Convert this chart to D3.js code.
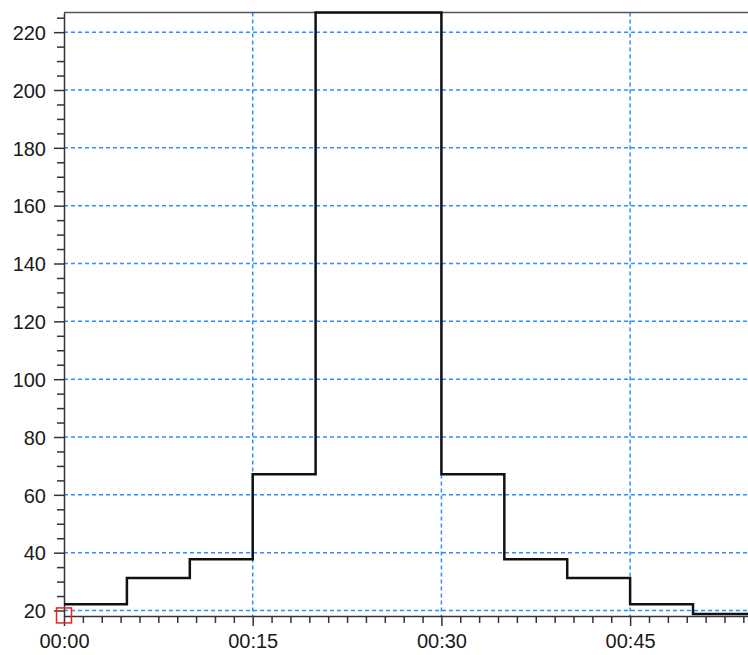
<!DOCTYPE html>
<html>
<head>
<meta charset="utf-8">
<script src="https://cdn.jsdelivr.net/npm/d3@7"></script>
<style>
    body { margin: 0; background: #fff; }
    svg { display: block; }
    .tick text { font-family: "Liberation Sans", Arial, sans-serif; font-size: 20px; fill: #1a1a1a; }
</style>
</head>
<body>
<svg id="chart" width="748" height="655"></svg>
<script>
(function () {
    'use strict';

    // step start times (minutes) and the rain intensity held from each one
    var stepStarts = [0, 5, 10, 15, 20, 25, 30, 35, 40, 45, 50, 55];
    var stepValues = [22.2, 31.2, 37.7, 67.1, 226.8, 226.8, 67.1, 37.7, 31.2, 22.2, 18.8, 18.8];
    var yTicks = [20, 40, 60, 80, 100, 120, 140, 160, 180, 200, 220];
    var xTicks = [0, 15, 30, 45];
    var xDomain = [0, 54.37];
    var yDomain = [18.1, 226.8];
    var markerPoint = [0, 18.3];

    var left = 64, top = 12.5, right = 748, bottom = 616;
    var svg = d3.select("#chart");

    var x = d3.scaleLinear().domain(xDomain).range([left, right]);
    var y = d3.scaleLinear().domain(yDomain).range([bottom, top]);

    function fmt(m) {
        return "00:" + d3.format("02d")(m);
    }

    // grid
    svg.append("g")
        .selectAll("line")
        .data(yTicks)
        .enter()
        .append("line")
        .attr("x1", left)
        .attr("x2", right)
        .attr("y1", function (d) { return y(d); })
        .attr("y2", function (d) { return y(d); })
        .style("stroke", "#2b8fff")
        .style("stroke-width", "1.5px")
        .style("stroke-dasharray", "4,3");
    svg.append("g")
        .selectAll("line")
        .data(xTicks.filter(function (d) { return d > 0; }))
        .enter()
        .append("line")
        .attr("x1", function (d) { return x(d); })
        .attr("x2", function (d) { return x(d); })
        .attr("y1", top)
        .attr("y2", bottom)
        .style("stroke", "#2b8fff")
        .style("stroke-width", "1.5px")
        .style("stroke-dasharray", "4,3");

    // minor ticks
    var yMinor = d3.range(20, 226, 5).filter(function (d) { return yTicks.indexOf(d) < 0; });
    svg.append("g")
        .attr("transform", "translate(" + left + ",0)")
        .call(d3.axisLeft(y).tickValues(yMinor).tickSize(7).tickFormat(""))
        .call(function (g) { g.select(".domain").remove(); })
        .selectAll("line").style("stroke", "#333").style("stroke-width", "1.5px");
    var xMinor = d3.range(0, 54.4, 1.5).filter(function (d) { return d % 15 !== 0; });
    svg.append("g")
        .attr("transform", "translate(0," + bottom + ")")
        .call(d3.axisBottom(x).tickValues(xMinor).tickSize(7).tickFormat(""))
        .call(function (g) { g.select(".domain").remove(); })
        .selectAll("line").style("stroke", "#333").style("stroke-width", "1.5px");

    // major axes
    var yAxis = svg.append("g")
        .attr("transform", "translate(" + left + ",0)")
        .call(d3.axisLeft(y).tickValues(yTicks).tickSize(10).tickPadding(8).tickSizeOuter(0));
    var xAxis = svg.append("g")
        .attr("transform", "translate(0," + bottom + ")")
        .call(d3.axisBottom(x).tickValues(xTicks).tickFormat(fmt).tickSize(10).tickPadding(8).tickSizeOuter(0));
    yAxis.selectAll("line").style("stroke", "#333").style("stroke-width", "1.5px");
    xAxis.selectAll("line").style("stroke", "#333").style("stroke-width", "1.5px");
    yAxis.select(".domain").style("stroke", "#333").style("stroke-width", "1.5px");
    xAxis.select(".domain").style("stroke", "#333").style("stroke-width", "1.5px");
    yAxis.selectAll("text").attr("dy", "0.36em");

    // top frame line
    svg.append("line")
        .attr("x1", left)
        .attr("x2", right)
        .attr("y1", top)
        .attr("y2", top)
        .style("stroke", "#555")
        .style("stroke-width", "1.5px");

    svg.append("clipPath")
        .attr("id", "plotClip")
        .append("rect")
        .attr("x", left)
        .attr("y", top - 3)
        .attr("width", right - left)
        .attr("height", bottom - top + 3);

    var pts = stepStarts.map(function (t, i) { return [t, stepValues[i]]; });
    var line = d3.line()
        .x(function (d) { return x(d[0]); })
        .y(function (d) { return y(d[1]); })
        .curve(d3.curveStepAfter);
    svg.append("path")
        .datum(pts)
        .attr("clip-path", "url(#plotClip)")
        .attr("d", line)
        .style("fill", "none")
        .style("stroke", "#111")
        .style("stroke-width", "2.5px");

    svg.append("rect")
        .attr("x", x(markerPoint[0]) - 7.5)
        .attr("y", y(markerPoint[1]) - 7.5)
        .attr("width", 15)
        .attr("height", 15)
        .style("fill", "none")
        .style("stroke", "#e8261e")
        .style("stroke-width", "1.5px");
}());
</script>
</body>
</html>
